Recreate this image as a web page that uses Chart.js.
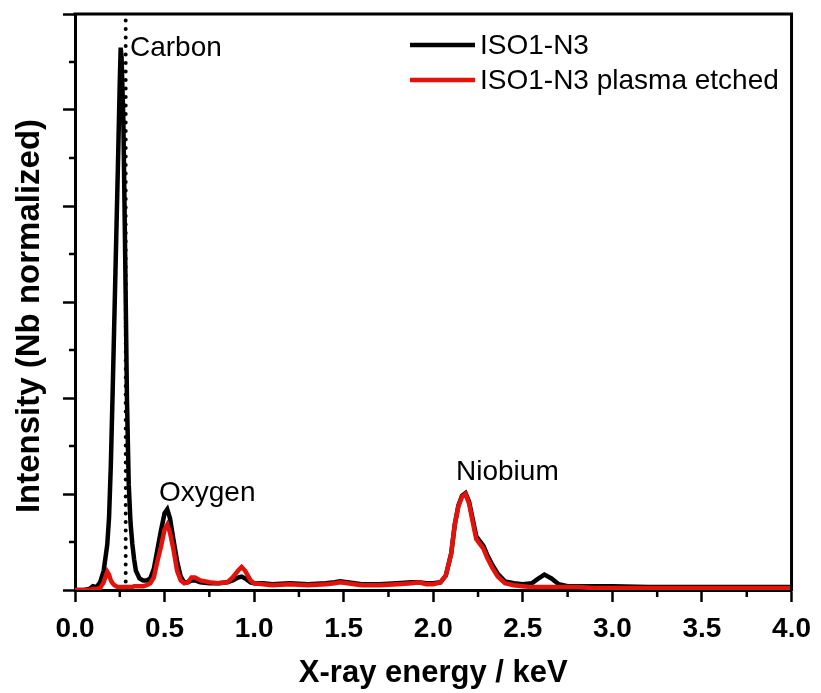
<!DOCTYPE html>
<html>
<head>
<meta charset="utf-8">
<script src="https://cdn.jsdelivr.net/npm/chart.js@4.4.0/dist/chart.umd.min.js"></script>
<style>
html,body{margin:0;padding:0;background:#fff;}
#wrap{width:821px;height:693px;}
</style>
</head>
<body>
<div id="wrap"><canvas id="c" width="821" height="693"></canvas></div>
<script>
// X-ray energy (keV)
const energy = [0,0.05,0.08,0.1,0.12,0.14,0.16,0.18,0.19,0.2,0.21,0.22,0.23,0.24,0.25,0.255,0.26,0.27,0.28,0.29,0.3,0.31,0.32,0.33,0.34,0.36,0.38,0.4,0.42,0.44,0.46,0.48,0.5,0.515,0.53,0.55,0.57,0.59,0.61,0.63,0.65,0.67,0.7,0.75,0.8,0.85,0.88,0.91,0.93,0.95,0.98,1.0,1.05,1.1,1.2,1.3,1.4,1.45,1.48,1.52,1.6,1.7,1.8,1.88,1.92,1.96,2.0,2.04,2.07,2.1,2.12,2.14,2.16,2.18,2.2,2.22,2.24,2.26,2.28,2.3,2.33,2.36,2.4,2.45,2.5,2.55,2.58,2.62,2.66,2.7,2.75,2.8,2.9,3.0,3.2,3.4,3.6,3.8,4.0];
// ISO1-N3 (Nb normalized intensity)
const iso1 = [0,0,0.01,0.04,0.03,0.08,0.2,0.47,0.75,1.3,2.05,2.85,3.65,4.45,5.3,5.65,5.55,4.9,3.5,2.0,1.1,0.7,0.48,0.32,0.2,0.12,0.1,0.1,0.12,0.22,0.42,0.62,0.8,0.84,0.75,0.52,0.3,0.14,0.08,0.08,0.1,0.1,0.08,0.07,0.07,0.08,0.1,0.13,0.14,0.12,0.08,0.07,0.07,0.06,0.07,0.06,0.07,0.08,0.09,0.08,0.06,0.06,0.07,0.08,0.08,0.07,0.07,0.08,0.15,0.38,0.68,0.88,0.98,1.01,0.92,0.74,0.56,0.51,0.46,0.37,0.26,0.17,0.09,0.07,0.06,0.07,0.11,0.16,0.12,0.06,0.04,0.04,0.04,0.04,0.03,0.03,0.03,0.03,0.03];
// ISO1-N3 plasma etched
const iso1Etched = [0,0,0,0.01,0.01,0.02,0.08,0.19,0.16,0.1,0.07,0.05,0.04,0.03,0.03,0.03,0.03,0.03,0.03,0.03,0.03,0.03,0.03,0.04,0.04,0.04,0.04,0.05,0.07,0.13,0.3,0.45,0.63,0.68,0.6,0.42,0.2,0.1,0.07,0.08,0.13,0.13,0.1,0.08,0.07,0.08,0.13,0.2,0.24,0.2,0.1,0.07,0.06,0.05,0.06,0.05,0.06,0.07,0.08,0.07,0.05,0.05,0.06,0.07,0.08,0.06,0.06,0.08,0.15,0.38,0.68,0.87,0.97,1.0,0.9,0.71,0.53,0.48,0.43,0.34,0.23,0.14,0.07,0.05,0.04,0.03,0.03,0.03,0.03,0.03,0.03,0.03,0.02,0.02,0.02,0.02,0.02,0.02,0.02];
// Carbon K-alpha reference line
const carbonLineX = [0.283, 0.283];
const carbonLineY = [0, 6];
const seriesNames = ['ISO1-N3', 'ISO1-N3 plasma etched'];
const seriesColors = ['#000000', '#e3120b'];
const peakLabels = ['Carbon', 'Oxygen', 'Niobium'];

const FONT = '"Liberation Sans", Arial, Helvetica, sans-serif';

function pts(xs, ys){ return xs.map((x,i)=>({x:x, y:ys[i]})); }

const decor = {
  id: 'decor',
  afterDraw(chart){
    const ctx = chart.ctx, a = chart.chartArea;
    const xs = chart.scales.x, ys = chart.scales.y;
    ctx.save();
    // frame (top & right)
    ctx.strokeStyle = '#000'; ctx.lineWidth = 3; ctx.lineCap = 'square';
    ctx.beginPath();
    ctx.moveTo(a.left, a.top); ctx.lineTo(a.right, a.top); ctx.lineTo(a.right, a.bottom);
    ctx.stroke();
    // minor ticks
    ctx.lineWidth = 2.5; ctx.lineCap = 'butt';
    ctx.beginPath();
    for (let v = 0.25; v < 4; v += 0.5){
      const px = xs.getPixelForValue(v);
      ctx.moveTo(px, a.bottom); ctx.lineTo(px, a.bottom + 7);
    }
    for (let v = 0.5; v < 6; v += 1){
      const py = ys.getPixelForValue(v);
      ctx.moveTo(a.left, py); ctx.lineTo(a.left - 6, py);
    }
    ctx.stroke();
    // y title
    ctx.fillStyle = '#000';
    ctx.font = 'bold 33px ' + FONT;
    ctx.textAlign = 'center'; ctx.textBaseline = 'middle';
    ctx.translate(30, 316); ctx.rotate(-Math.PI/2);
    ctx.fillText('Intensity (Nb normalized)', 0, 0);
    ctx.restore();

    ctx.save();
    // peak labels
    ctx.fillStyle = '#000';
    ctx.font = '28px ' + FONT;
    ctx.textAlign = 'left'; ctx.textBaseline = 'alphabetic';
    ctx.fillText(peakLabels[0], 130, 56);
    ctx.fillText(peakLabels[1], 159, 501);
    ctx.fillText(peakLabels[2], 456, 480);
    // legend
    const ly = [45, 80];
    for (let i = 0; i < 2; i++){
      ctx.strokeStyle = seriesColors[i]; ctx.lineWidth = 4.5;
      ctx.beginPath(); ctx.moveTo(410, ly[i]); ctx.lineTo(475, ly[i]); ctx.stroke();
      ctx.fillStyle = '#000';
      ctx.textBaseline = 'middle';
      ctx.fillText(seriesNames[i], 480, ly[i] + 1);
    }
    ctx.restore();
  }
};

new Chart(document.getElementById('c'), {
  type: 'line',
  data: {
    datasets: [
      { label: seriesNames[1], data: pts(energy, iso1Etched), borderColor: seriesColors[1], borderWidth: 4.5, pointRadius: 0, tension: 0, order: 0 },
      { label: seriesNames[0], data: pts(energy, iso1), borderColor: seriesColors[0], borderWidth: 4.5, pointRadius: 0, tension: 0, order: 1 },
      { label: 'C', data: pts(carbonLineX, carbonLineY), borderColor: '#000', borderWidth: 4, borderDash: [0.1, 8.4], borderCapStyle: 'round', pointRadius: 0, order: 2 }
    ]
  },
  options: {
    responsive: false,
    animation: false,
    parsing: true,
    layout: { padding: { left: 0, right: 24, top: 14, bottom: 0 } },
    plugins: { legend: { display: false }, tooltip: { enabled: false } },
    scales: {
      x: {
        type: 'linear', min: 0, max: 4,
        ticks: { stepSize: 0.5, color: '#000', font: { family: FONT, size: 28, weight: 'bold' }, padding: 10, callback: v => v.toFixed(1), maxRotation: 0 },
        grid: { drawOnChartArea: false, drawTicks: true, tickLength: 12, tickWidth: 2.5, tickColor: '#000' },
        border: { display: true, color: '#000', width: 3 },
        title: { display: true, text: 'X-ray energy / keV', color: '#000', font: { family: FONT, size: 31, weight: 'bold' }, padding: { top: 0, bottom: 1 } },
        afterFit: s => { s.height = 103; }
      },
      y: {
        type: 'linear', min: 0, max: 6,
        ticks: { stepSize: 1, display: false },
        grid: { drawOnChartArea: false, drawTicks: true, tickLength: 12, tickWidth: 2.5, tickColor: '#000' },
        border: { display: true, color: '#000', width: 3 },
        afterFit: s => { s.width = 75; }
      }
    }
  },
  plugins: [decor]
});
</script>
</body>
</html>
